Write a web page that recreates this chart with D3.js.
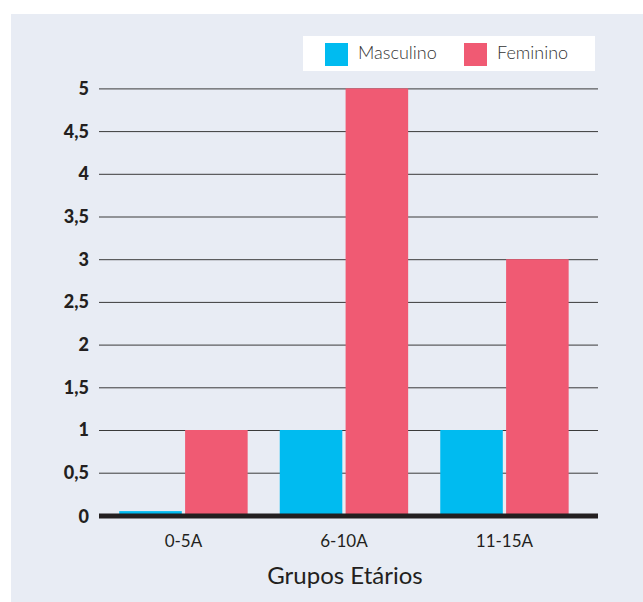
<!DOCTYPE html>
<html>
<head>
<meta charset="utf-8">
<script src="https://cdn.jsdelivr.net/npm/d3@7"></script>
<style>
  html, body { margin: 0; padding: 0; background: #ffffff; }
  svg { display: block; }
</style>
</head>
<body>
<svg id="chart" width="643" height="602"></svg>
<script>
// Age groups and counts per sex
const categories = ["0-5A", "6-10A", "11-15A"];
const seriesNames = ["Masculino", "Feminino"];
const masculino = [0.05, 1, 1];
const feminino = [1, 5, 3];
const yTicks = [0, 0.5, 1, 1.5, 2, 2.5, 3, 3.5, 4, 4.5, 5];
const xTitle = "Grupos Etários";

const colors = { Masculino: "#00bbf0", Feminino: "#f05a73" };
const font = "Lato, 'Open Sans', sans-serif";

const svg = d3.select("#chart");

// panel background
svg.append("rect")
  .attr("x", 11).attr("y", 14)
  .attr("width", 632).attr("height", 588)
  .attr("fill", "#e8ecf4");

const left = 99, right = 598;
const y = d3.scaleLinear().domain([0, 5]).range([515.4, 88.4]);

const x = d3.scaleBand()
  .domain(categories)
  .range([103.2, 584.7])
  .paddingInner(0.2)
  .paddingOuter(0.1);

const xs = d3.scaleBand()
  .domain(seriesNames)
  .range([0, x.bandwidth()])
  .paddingInner(0.05);

const rows = categories.map((c, i) => ({
  cat: c,
  values: [
    { key: "Masculino", value: masculino[i] },
    { key: "Feminino", value: feminino[i] }
  ]
}));

// horizontal grid lines
const grid = d3.axisLeft(y)
  .tickValues(yTicks.filter(t => t > 0))
  .tickSize(-(right - left))
  .tickFormat("");
svg.append("g")
  .attr("transform", `translate(${left},0)`)
  .call(grid)
  .call(g => g.select(".domain").remove())
  .call(g => g.selectAll("line").attr("stroke", "#3a3a3a").attr("stroke-width", 1));

// bars
svg.append("g").selectAll("g")
  .data(rows)
  .join("g")
  .attr("transform", d => `translate(${x(d.cat)},0)`)
  .selectAll("rect")
  .data(d => d.values)
  .join("rect")
  .attr("x", d => xs(d.key))
  .attr("width", xs.bandwidth())
  .attr("y", d => y(d.value))
  .attr("height", d => y(0) - y(d.value))
  .attr("fill", d => colors[d.key]);

// baseline
svg.append("line")
  .attr("x1", left).attr("x2", right)
  .attr("y1", y(0) + 0.5).attr("y2", y(0) + 0.5)
  .attr("stroke", "#231f20").attr("stroke-width", 5);

// y axis labels
const fmt = v => String(v).replace(".", ",");
svg.append("g").selectAll("text")
  .data(yTicks)
  .join("text")
  .attr("x", 89)
  .attr("y", d => y(d) + (d === 0 ? 1 : 0))
  .attr("dy", "0.36em")
  .attr("text-anchor", "end")
  .attr("font-family", font)
  .attr("font-weight", 900)
  .attr("font-size", 18)
  .attr("fill", "#231f20")
  .text(fmt);

// x axis labels
svg.append("g").selectAll("text")
  .data(categories)
  .join("text")
  .attr("x", d => x(d) + x.bandwidth() / 2)
  .attr("y", 547)
  .attr("text-anchor", "middle")
  .attr("font-family", font)
  .attr("font-size", 17)
  .attr("fill", "#231f20")
  .text(d => d);

// axis title
svg.append("text")
  .attr("x", 345)
  .attr("y", 584)
  .attr("text-anchor", "middle")
  .attr("font-family", font)
  .attr("font-size", 24)
  .attr("fill", "#231f20")
  .text(xTitle);

// legend
const legend = svg.append("g");
legend.append("rect")
  .attr("x", 303).attr("y", 36)
  .attr("width", 292).attr("height", 35)
  .attr("fill", "#ffffff");
const legendX = [325, 464];
seriesNames.forEach((s, i) => {
  legend.append("rect")
    .attr("x", legendX[i]).attr("y", 43)
    .attr("width", 23).attr("height", 23)
    .attr("fill", colors[s]);
  legend.append("text")
    .attr("x", legendX[i] + 33)
    .attr("y", 59)
    .attr("font-family", font)
    .attr("font-weight", 300)
    .attr("font-size", 18)
    .attr("fill", "#333333")
    .text(s);
});
</script>
</body>
</html>
